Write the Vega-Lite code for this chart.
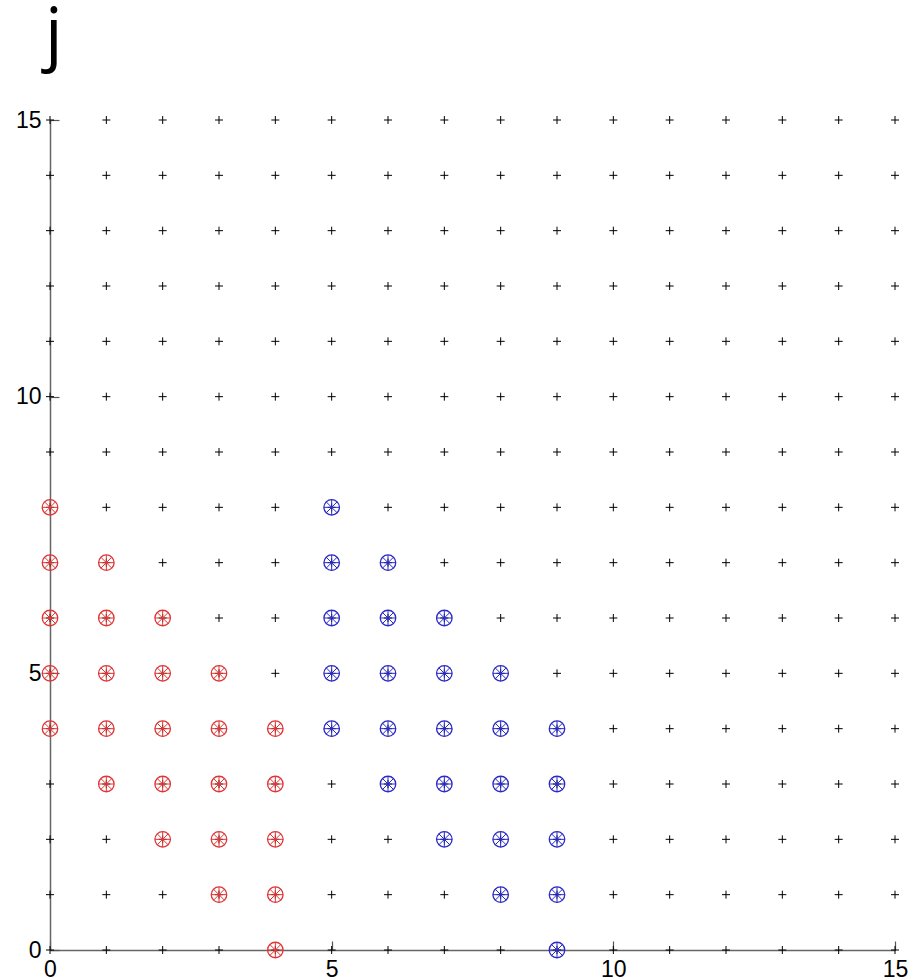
{
  "$schema": "https://vega.github.io/schema/vega-lite/v6.json",
  "width": 845,
  "height": 830,
  "autosize": "none",
  "padding": {"left": 50, "top": 120, "right": 29, "bottom": 30},
  "background": "white",
  "title": {"text": "j", "anchor": "start", "frame": "group", "fontSize": 70, "font": "Open Sans", "fontWeight": "normal", "color": "black", "baseline": "alphabetic", "offset": -18, "dx": -5},
  "config": {"view": {"stroke": null}},
  "datasets": {
    "grid": [
      {"x":0,"y":0},{"x":0,"y":1},{"x":0,"y":2},{"x":0,"y":3},{"x":0,"y":4},{"x":0,"y":5},{"x":0,"y":6},{"x":0,"y":7},{"x":0,"y":8},{"x":0,"y":9},{"x":0,"y":10},{"x":0,"y":11},{"x":0,"y":12},{"x":0,"y":13},{"x":0,"y":14},{"x":0,"y":15},
      {"x":1,"y":0},{"x":1,"y":1},{"x":1,"y":2},{"x":1,"y":3},{"x":1,"y":4},{"x":1,"y":5},{"x":1,"y":6},{"x":1,"y":7},{"x":1,"y":8},{"x":1,"y":9},{"x":1,"y":10},{"x":1,"y":11},{"x":1,"y":12},{"x":1,"y":13},{"x":1,"y":14},{"x":1,"y":15},
      {"x":2,"y":0},{"x":2,"y":1},{"x":2,"y":2},{"x":2,"y":3},{"x":2,"y":4},{"x":2,"y":5},{"x":2,"y":6},{"x":2,"y":7},{"x":2,"y":8},{"x":2,"y":9},{"x":2,"y":10},{"x":2,"y":11},{"x":2,"y":12},{"x":2,"y":13},{"x":2,"y":14},{"x":2,"y":15},
      {"x":3,"y":0},{"x":3,"y":1},{"x":3,"y":2},{"x":3,"y":3},{"x":3,"y":4},{"x":3,"y":5},{"x":3,"y":6},{"x":3,"y":7},{"x":3,"y":8},{"x":3,"y":9},{"x":3,"y":10},{"x":3,"y":11},{"x":3,"y":12},{"x":3,"y":13},{"x":3,"y":14},{"x":3,"y":15},
      {"x":4,"y":0},{"x":4,"y":1},{"x":4,"y":2},{"x":4,"y":3},{"x":4,"y":4},{"x":4,"y":5},{"x":4,"y":6},{"x":4,"y":7},{"x":4,"y":8},{"x":4,"y":9},{"x":4,"y":10},{"x":4,"y":11},{"x":4,"y":12},{"x":4,"y":13},{"x":4,"y":14},{"x":4,"y":15},
      {"x":5,"y":0},{"x":5,"y":1},{"x":5,"y":2},{"x":5,"y":3},{"x":5,"y":4},{"x":5,"y":5},{"x":5,"y":6},{"x":5,"y":7},{"x":5,"y":8},{"x":5,"y":9},{"x":5,"y":10},{"x":5,"y":11},{"x":5,"y":12},{"x":5,"y":13},{"x":5,"y":14},{"x":5,"y":15},
      {"x":6,"y":0},{"x":6,"y":1},{"x":6,"y":2},{"x":6,"y":3},{"x":6,"y":4},{"x":6,"y":5},{"x":6,"y":6},{"x":6,"y":7},{"x":6,"y":8},{"x":6,"y":9},{"x":6,"y":10},{"x":6,"y":11},{"x":6,"y":12},{"x":6,"y":13},{"x":6,"y":14},{"x":6,"y":15},
      {"x":7,"y":0},{"x":7,"y":1},{"x":7,"y":2},{"x":7,"y":3},{"x":7,"y":4},{"x":7,"y":5},{"x":7,"y":6},{"x":7,"y":7},{"x":7,"y":8},{"x":7,"y":9},{"x":7,"y":10},{"x":7,"y":11},{"x":7,"y":12},{"x":7,"y":13},{"x":7,"y":14},{"x":7,"y":15},
      {"x":8,"y":0},{"x":8,"y":1},{"x":8,"y":2},{"x":8,"y":3},{"x":8,"y":4},{"x":8,"y":5},{"x":8,"y":6},{"x":8,"y":7},{"x":8,"y":8},{"x":8,"y":9},{"x":8,"y":10},{"x":8,"y":11},{"x":8,"y":12},{"x":8,"y":13},{"x":8,"y":14},{"x":8,"y":15},
      {"x":9,"y":0},{"x":9,"y":1},{"x":9,"y":2},{"x":9,"y":3},{"x":9,"y":4},{"x":9,"y":5},{"x":9,"y":6},{"x":9,"y":7},{"x":9,"y":8},{"x":9,"y":9},{"x":9,"y":10},{"x":9,"y":11},{"x":9,"y":12},{"x":9,"y":13},{"x":9,"y":14},{"x":9,"y":15},
      {"x":10,"y":0},{"x":10,"y":1},{"x":10,"y":2},{"x":10,"y":3},{"x":10,"y":4},{"x":10,"y":5},{"x":10,"y":6},{"x":10,"y":7},{"x":10,"y":8},{"x":10,"y":9},{"x":10,"y":10},{"x":10,"y":11},{"x":10,"y":12},{"x":10,"y":13},{"x":10,"y":14},{"x":10,"y":15},
      {"x":11,"y":0},{"x":11,"y":1},{"x":11,"y":2},{"x":11,"y":3},{"x":11,"y":4},{"x":11,"y":5},{"x":11,"y":6},{"x":11,"y":7},{"x":11,"y":8},{"x":11,"y":9},{"x":11,"y":10},{"x":11,"y":11},{"x":11,"y":12},{"x":11,"y":13},{"x":11,"y":14},{"x":11,"y":15},
      {"x":12,"y":0},{"x":12,"y":1},{"x":12,"y":2},{"x":12,"y":3},{"x":12,"y":4},{"x":12,"y":5},{"x":12,"y":6},{"x":12,"y":7},{"x":12,"y":8},{"x":12,"y":9},{"x":12,"y":10},{"x":12,"y":11},{"x":12,"y":12},{"x":12,"y":13},{"x":12,"y":14},{"x":12,"y":15},
      {"x":13,"y":0},{"x":13,"y":1},{"x":13,"y":2},{"x":13,"y":3},{"x":13,"y":4},{"x":13,"y":5},{"x":13,"y":6},{"x":13,"y":7},{"x":13,"y":8},{"x":13,"y":9},{"x":13,"y":10},{"x":13,"y":11},{"x":13,"y":12},{"x":13,"y":13},{"x":13,"y":14},{"x":13,"y":15},
      {"x":14,"y":0},{"x":14,"y":1},{"x":14,"y":2},{"x":14,"y":3},{"x":14,"y":4},{"x":14,"y":5},{"x":14,"y":6},{"x":14,"y":7},{"x":14,"y":8},{"x":14,"y":9},{"x":14,"y":10},{"x":14,"y":11},{"x":14,"y":12},{"x":14,"y":13},{"x":14,"y":14},{"x":14,"y":15},
      {"x":15,"y":0},{"x":15,"y":1},{"x":15,"y":2},{"x":15,"y":3},{"x":15,"y":4},{"x":15,"y":5},{"x":15,"y":6},{"x":15,"y":7},{"x":15,"y":8},{"x":15,"y":9},{"x":15,"y":10},{"x":15,"y":11},{"x":15,"y":12},{"x":15,"y":13},{"x":15,"y":14},{"x":15,"y":15}
    ],
    "marked": [
      {"x":0,"y":4,"c":"red"},{"x":0,"y":5,"c":"red"},{"x":0,"y":6,"c":"red"},{"x":0,"y":7,"c":"red"},{"x":0,"y":8,"c":"red"},
      {"x":1,"y":3,"c":"red"},{"x":1,"y":4,"c":"red"},{"x":1,"y":5,"c":"red"},{"x":1,"y":6,"c":"red"},{"x":1,"y":7,"c":"red"},
      {"x":2,"y":2,"c":"red"},{"x":2,"y":3,"c":"red"},{"x":2,"y":4,"c":"red"},{"x":2,"y":5,"c":"red"},{"x":2,"y":6,"c":"red"},
      {"x":3,"y":1,"c":"red"},{"x":3,"y":2,"c":"red"},{"x":3,"y":3,"c":"red"},{"x":3,"y":4,"c":"red"},{"x":3,"y":5,"c":"red"},
      {"x":4,"y":0,"c":"red"},{"x":4,"y":1,"c":"red"},{"x":4,"y":2,"c":"red"},{"x":4,"y":3,"c":"red"},{"x":4,"y":4,"c":"red"},
      {"x":5,"y":4,"c":"blue"},{"x":5,"y":5,"c":"blue"},{"x":5,"y":6,"c":"blue"},{"x":5,"y":7,"c":"blue"},{"x":5,"y":8,"c":"blue"},
      {"x":6,"y":3,"c":"blue"},{"x":6,"y":4,"c":"blue"},{"x":6,"y":5,"c":"blue"},{"x":6,"y":6,"c":"blue"},{"x":6,"y":7,"c":"blue"},
      {"x":7,"y":2,"c":"blue"},{"x":7,"y":3,"c":"blue"},{"x":7,"y":4,"c":"blue"},{"x":7,"y":5,"c":"blue"},{"x":7,"y":6,"c":"blue"},
      {"x":8,"y":1,"c":"blue"},{"x":8,"y":2,"c":"blue"},{"x":8,"y":3,"c":"blue"},{"x":8,"y":4,"c":"blue"},{"x":8,"y":5,"c":"blue"},
      {"x":9,"y":0,"c":"blue"},{"x":9,"y":1,"c":"blue"},{"x":9,"y":2,"c":"blue"},{"x":9,"y":3,"c":"blue"},{"x":9,"y":4,"c":"blue"}
    ]
  },
  "encoding": {
    "x": {"field": "x", "type": "quantitative", "scale": {"domain": [0, 15], "nice": false, "zero": false},
      "axis": {"title": null, "values": [0, 5, 10, 15], "grid": false, "tickSize": -9, "tickColor": "#555", "tickWidth": 1.2, "domainColor": "#666", "domainWidth": 1.5, "labelFont": "Liberation Sans", "labelFontSize": 23, "labelColor": "black", "labelPadding": 17, "labelFlush": false, "labelOverlap": false}},
    "y": {"field": "y", "type": "quantitative", "scale": {"domain": [0, 15], "nice": false, "zero": false},
      "axis": {"title": null, "values": [0, 5, 10, 15], "grid": false, "tickSize": -9, "tickColor": "#555", "tickWidth": 1.2, "domainColor": "#666", "domainWidth": 1.5, "labelFont": "Liberation Sans", "labelFontSize": 23, "labelColor": "black", "labelPadding": 18, "labelFlush": false, "labelOverlap": false}}
  },
  "layer": [
    {
      "data": {"name": "grid"},
      "mark": {"type": "point", "shape": "M-1,0L1,0M0,-1L0,1", "size": 64, "filled": false, "stroke": "black", "strokeWidth": 1, "opacity": 1}
    },
    {
      "data": {"name": "marked"},
      "mark": {"type": "point", "shape": "circle", "size": 240, "filled": false, "strokeWidth": 1.3, "opacity": 1},
      "encoding": {"color": {"field": "c", "type": "nominal", "scale": {"domain": ["red", "blue"], "range": ["#e03535", "#2a2ac8"]}, "legend": null}}
    },
    {
      "data": {"name": "marked"},
      "mark": {"type": "point", "shape": "M-1,0L1,0M0,-1L0,1M-0.707,-0.707L0.707,0.707M-0.707,0.707L0.707,-0.707", "size": 240, "filled": false, "strokeWidth": 1, "opacity": 1},
      "encoding": {"color": {"field": "c", "type": "nominal", "scale": {"domain": ["red", "blue"], "range": ["#e03535", "#2a2ac8"]}, "legend": null}}
    },
    {
      "data": {"name": "marked"},
      "mark": {"type": "point", "shape": "circle", "size": 9, "filled": true, "opacity": 1},
      "encoding": {"color": {"field": "c", "type": "nominal", "scale": {"domain": ["red", "blue"], "range": ["#e00000", "#0000d0"]}, "legend": null}}
    }
  ]
}
